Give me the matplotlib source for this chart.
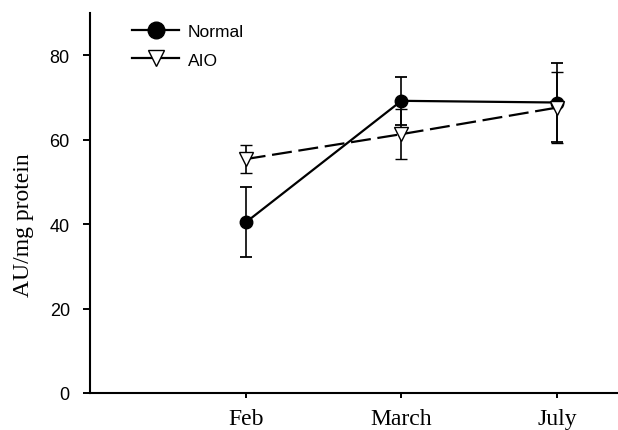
import matplotlib
matplotlib.use("Agg")
import matplotlib.pyplot as plt
from matplotlib.lines import Line2D

months = ["Feb", "March", "July"]
normal_mean = [40.4, 69.2, 68.8]
normal_err = [8.3, 5.7, 9.4]
aio_mean = [55.4, 61.3, 67.6]
aio_err = [3.3, 5.9, 8.5]
yticks = [0, 20, 40, 60, 80]

W, H = 618, 431
fig = plt.figure(figsize=(W / 100, H / 100), dpi=100)
ax = fig.add_axes([90 / W, 37 / H, 528 / W, 380 / H])

x = [1, 2, 3]
ax.errorbar(x, normal_mean, yerr=normal_err, color="black", lw=1.6,
            marker="o", ms=9, mfc="black", mec="black",
            ecolor="black", elinewidth=1.2, capsize=4, capthick=1.3,
            zorder=2)
ax.errorbar(x, aio_mean, yerr=aio_err, color="black", lw=1.6,
            linestyle=(0, (9, 3)),
            marker="v", ms=9.5, mfc="white", mec="black", mew=1.0,
            ecolor="black", elinewidth=1.2, capsize=4, capthick=1.3,
            zorder=3)

ax.set_xlim(0, 3 + 61 / 156)
ax.set_ylim(0, 90)
ax.set_xticks(x)
ax.set_xticklabels(months, family="Liberation Serif", fontsize=17)
ax.set_yticks(yticks)
ax.set_yticklabels([str(v) for v in yticks], family="Liberation Sans", fontsize=13)
ax.tick_params(axis="y", direction="out", length=5, width=1.4, pad=9.5)
ax.tick_params(axis="x", direction="out", length=3.5, width=1.4, pad=7)
ax.set_ylabel("AU/mg protein", family="Liberation Serif", fontsize=17)
ax.yaxis.set_label_coords((34 - 90) / 528, (394 - 225) / 380)

for s in ["top", "right"]:
    ax.spines[s].set_visible(False)
for s in ["left", "bottom"]:
    ax.spines[s].set_linewidth(1.5)

handles = [
    Line2D([], [], color="black", lw=1.6, marker="o", ms=12, mfc="black", mec="black"),
    Line2D([], [], color="black", lw=1.6, marker="v", ms=12, mfc="white", mec="black"),
]
leg = fig.legend(handles, ["Normal", "AIO"], loc="upper left",
                 bbox_to_anchor=(127 / W, 1 - 20 / H),
                 prop={"family": "Liberation Sans", "size": 12.5},
                 frameon=False, handlelength=2.7, handletextpad=0.5,
                 labelspacing=0.75, borderaxespad=0, borderpad=0.3)

fig.savefig("out.png", dpi=100)
